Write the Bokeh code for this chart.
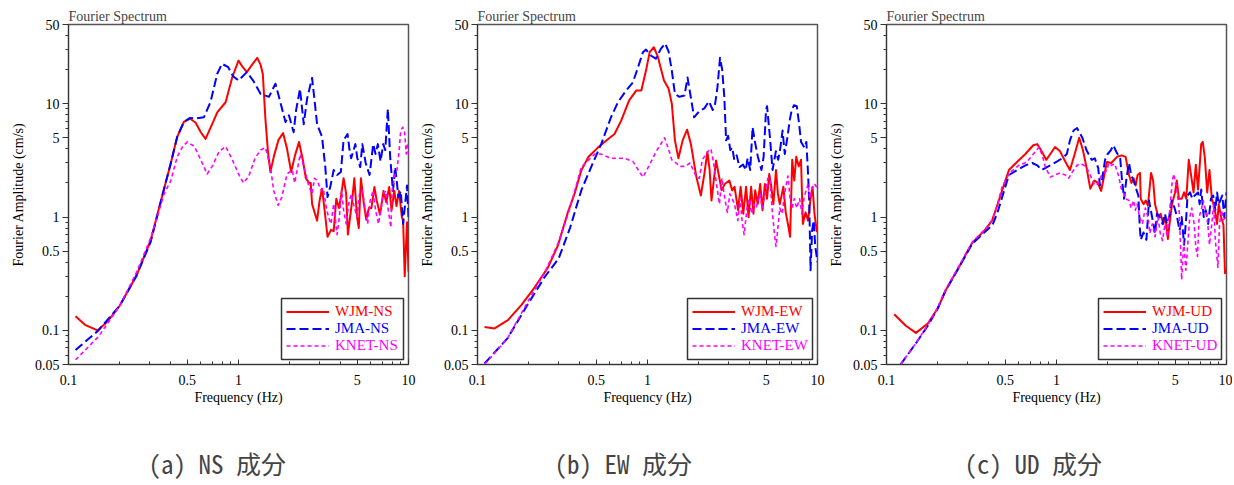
from bokeh.plotting import figure
from bokeh.models import (FixedTicker, CustomJSTickFormatter, Legend, LegendItem,
                          BoxAnnotation, Title, Range1d)
from bokeh.layouts import row
from bokeh.embed import file_html
from bokeh.resources import INLINE

# ---------------- data (frequency Hz, amplitude cm/s) ----------------
ns_wjm = [(0.11,0.133),(0.125,0.112),(0.148,0.10),(0.17,0.12),(0.2,0.165),(0.25,0.30),(0.304,0.62),
          (0.365,1.78),(0.399,2.96),(0.436,5.1),(0.477,6.9),(0.518,7.4),(0.56,6.8),(0.6,5.6),(0.64,4.9),
          (0.7,6.6),(0.75,8.4),(0.84,10.3),(0.92,17.2),(1.0,24),(1.06,21),(1.12,19),(1.2,22),(1.29,25.4),
          (1.35,22),(1.39,18.3),(1.44,7.3),(1.49,3.8),(1.54,2.5),(1.62,3.5),(1.72,4.8),(1.83,5.5),(1.93,4.0),
          (2.04,2.5),(2.15,3.5),(2.27,4.6),(2.38,3.3),(2.49,2.2),(2.6,2.0),(2.66,2.0),(2.71,1.3),(2.9,0.93),
          (3.0,1.4),(3.1,1.78),(3.2,1.2),(3.34,0.67),(3.5,0.77),(3.63,0.75),(3.76,1.45),(3.9,1.2),(4.0,1.5),
          (4.15,2.2),(4.3,1.6),(4.4,0.7),(4.65,1.35),(4.8,2.2),(4.98,1.0),(5.1,0.8),(5.25,2.2),(5.45,1.35),
          (5.64,0.95),(5.85,1.2),(6.05,1.2),(6.3,1.84),(6.5,1.4),(6.8,1.05),(7.13,1.7),(7.4,1.35),(7.7,1.84),
          (7.95,1.15),(8.25,1.7),(8.5,1.25),(8.8,1.7),(9.14,1.0),(9.3,0.93),(9.5,0.30),(9.8,0.9),(10.0,0.33)]
ns_jma = [(0.11,0.067),(0.15,0.10),(0.2,0.165),(0.25,0.3),(0.304,0.6),(0.365,1.78),(0.399,2.96),(0.436,5.1),
          (0.477,6.9),(0.52,7.5),(0.56,7.4),(0.626,7.6),(0.685,10.4),(0.75,18.4),(0.80,22.5),(0.87,21),
          (0.93,17.5),(1.0,16),(1.12,19),(1.22,16),(1.35,12.2),(1.51,11.5),(1.65,15),(1.76,10.4),(1.89,6.9),
          (1.98,7.9),(2.11,5.6),(2.18,8.7),(2.3,13.5),(2.42,6.6),(2.53,11),(2.71,16.9),(2.9,6.6),(3.1,5.1),
          (3.24,2.76),(3.34,1.5),(3.48,1.9),(3.63,2.6),(3.8,2.35),(4.0,2.5),(4.15,4.75),(4.38,5.4),(4.5,3.9),
          (4.6,3.3),(4.87,4.4),(5.0,3.3),(5.2,2.76),(5.35,4.4),(5.6,3.0),(5.9,2.35),(6.2,4.4),(6.4,3.6),
          (6.6,4.4),(6.85,3.1),(7.1,4.4),(7.3,3.9),(7.56,9.0),(7.8,3.4),(8.1,1.7),(8.35,2.76),(8.73,1.5),
          (9.0,1.7),(9.3,0.87),(9.55,1.3),(9.8,1.9),(10.0,1.0)]
ns_knet = [(0.11,0.055),(0.15,0.088),(0.2,0.165),(0.25,0.32),(0.304,0.65),(0.365,1.6),(0.4,2.1),(0.436,3.4),
           (0.47,4.2),(0.50,4.6),(0.55,4.2),(0.6,3.2),(0.654,2.4),(0.7,2.8),(0.77,3.8),(0.84,4.2),(0.92,3.2),
           (1.0,2.4),(1.07,2.0),(1.15,2.3),(1.25,3.3),(1.35,3.9),(1.44,4.1),(1.54,2.8),(1.61,1.72),(1.71,1.27),
           (1.8,1.5),(1.93,2.4),(2.07,2.6),(2.14,2.0),(2.31,3.6),(2.49,2.4),(2.6,1.84),(2.71,1.6),(2.8,2.2),
           (2.9,2.1),(3.06,1.72),(3.15,1.8),(3.28,1.23),(3.38,1.0),(3.5,0.87),(3.63,1.31),(3.8,0.70),(3.92,1.0),
           (4.04,1.72),(4.15,1.15),(4.3,0.87),(4.45,1.31),(4.6,1.6),(4.75,1.3),(4.98,1.0),(5.15,1.6),(5.35,1.72),
           (5.5,1.3),(5.75,0.87),(5.95,1.4),(6.2,1.72),(6.4,1.15),(6.66,0.87),(6.9,1.2),(7.13,1.6),(7.35,1.7),
           (7.55,1.23),(7.88,0.81),(8.0,1.7),(8.35,2.4),(8.55,2.6),(8.8,3.8),(9.0,5.8),(9.25,6.2),(9.5,5.5),
           (9.7,3.6),(9.85,4.5),(10.0,3.5)]

ew_wjm = [(0.11,0.107),(0.126,0.104),(0.151,0.123),(0.181,0.167),(0.217,0.24),(0.26,0.36),(0.297,0.56),
          (0.34,1.1),(0.372,1.6),(0.408,2.58),(0.45,3.4),(0.511,4.1),(0.58,4.8),(0.64,5.4),(0.70,7.1),
          (0.78,10.7),(0.86,13.1),(0.92,13.1),(0.98,19.6),(1.03,28.5),(1.09,31.5),(1.15,26),(1.25,16),
          (1.33,13.6),(1.39,10),(1.45,4.75),(1.52,3.3),(1.61,4.75),(1.71,5.9),(1.80,4.4),(1.94,2.25),
          (2.06,1.55),(2.16,2.4),(2.25,3.75),(2.32,2.6),(2.38,1.4),(2.53,3.16),(2.62,2.4),(2.73,1.72),
          (2.85,1.96),(3.03,2.1),(3.15,1.72),(3.25,1.85),(3.41,1.15),(3.53,1.85),(3.66,1.07),(3.8,1.85),
          (3.93,1.0),(4.07,1.85),(4.2,1.07),(4.3,1.72),(4.45,1.3),(4.6,1.96),(4.75,1.15),(4.9,1.96),
          (5.05,1.45),(5.2,2.4),(5.35,1.85),(5.5,1.3),(5.7,2.6),(5.85,1.6),(6.0,1.3),(6.3,1.85),(6.5,1.1),
          (6.7,0.87),(6.9,0.67),(7.1,3.2),(7.3,2.1),(7.5,3.4),(7.75,2.8),(8.0,3.2),(8.2,0.87),(8.5,1.1),
          (8.8,0.93),(9.1,1.45),(9.35,1.85),(9.6,1.07),(9.9,0.75),(10.0,0.8)]
ew_jma = [(0.11,0.051),(0.15,0.085),(0.2,0.175),(0.25,0.3),(0.3,0.43),(0.35,0.8),(0.408,1.72),(0.466,2.76),
          (0.534,4.4),(0.61,7.6),(0.67,10.3),(0.75,13.1),(0.82,15.4),(0.88,21),(0.94,28.5),(0.98,30),
          (1.05,26.5),(1.12,25),(1.2,30.6),(1.27,34),(1.33,29),(1.39,19.6),(1.45,12.2),(1.54,11.5),
          (1.65,11.8),(1.72,17),(1.78,12.5),(1.88,7.6),(2.02,8.6),(2.16,9.1),(2.22,9.7),(2.3,10.5),
          (2.42,8.8),(2.5,10),(2.58,14),(2.67,25.4),(2.75,20),(2.83,11.5),(2.9,4.75),(2.98,5.2),(3.07,3.9),
          (3.15,4.1),(3.24,3.2),(3.35,3.5),(3.47,2.76),(3.65,2.9),(3.78,2.6),(3.88,3.3),(4.02,2.6),
          (4.15,6.2),(4.27,4.75),(4.46,3.4),(4.68,2.6),(4.82,3.4),(4.98,8.8),(5.05,9.5),(5.27,4.75),
          (5.44,2.6),(5.69,3.8),(5.87,3.2),(6.05,4.1),(6.23,5.8),(6.42,3.6),(6.66,5.1),(6.86,7.1),
          (7.05,8.8),(7.27,9.7),(7.55,9.5),(7.78,6.8),(8.0,4.6),(8.38,4.1),(8.6,4.6),(8.8,2.4),(8.95,1.31),
          (9.1,0.34),(9.3,0.77),(9.5,0.93),(9.7,0.55),(10.0,0.4)]
ew_knet = [(0.11,0.05),(0.15,0.085),(0.2,0.185),(0.25,0.33),(0.3,0.6),(0.35,1.2),(0.408,2.76),(0.49,3.6),
           (0.53,3.6),(0.61,3.3),(0.73,3.3),(0.82,3.1),(0.94,2.25),(1.03,2.9),(1.12,3.75),(1.26,5.0),
           (1.32,4.1),(1.39,3.2),(1.47,3.0),(1.56,2.8),(1.67,2.8),(1.78,3.0),(1.94,2.25),(2.02,2.2),
           (2.1,3.2),(2.3,3.9),(2.36,4.0),(2.45,3.0),(2.56,1.85),(2.65,1.3),(2.74,2.2),(2.85,1.45),
           (2.95,1.1),(3.05,1.6),(3.15,1.45),(3.25,1.3),(3.4,0.93),(3.5,1.45),(3.6,0.93),(3.7,0.7),
           (3.85,1.2),(3.97,1.45),(4.1,1.07),(4.22,1.3),(4.35,1.2),(4.6,1.6),(4.72,1.2),(4.85,1.45),
           (5.1,2.2),(5.25,2.2),(5.4,1.2),(5.6,0.67),(5.7,0.55),(5.82,0.75),(6.0,1.2),(6.2,1.07),(6.4,1.6),
           (6.7,2.3),(6.9,1.45),(7.1,1.2),(7.3,1.45),(7.55,1.2),(7.85,1.45),(8.1,1.07),(8.35,1.5),
           (8.8,1.96),(9.0,1.45),(9.3,1.8),(9.6,1.96),(9.85,1.85),(10.0,1.8)]

ud_wjm = [(0.111,0.139),(0.13,0.11),(0.149,0.095),(0.175,0.115),(0.2,0.156),(0.223,0.226),(0.267,0.363),
          (0.319,0.59),(0.38,0.77),(0.418,0.93),(0.458,1.4),(0.479,1.72),(0.525,2.6),(0.586,3.06),
          (0.656,3.6),(0.73,4.3),(0.77,4.4),(0.81,3.9),(0.87,3.2),(0.92,3.6),(0.98,4.15),(1.05,3.8),
          (1.13,3.06),(1.2,2.6),(1.28,3.6),(1.36,5.0),(1.43,3.9),(1.5,2.76),(1.58,1.78),(1.67,2.1),
          (1.75,2.0),(1.83,1.7),(1.98,3.06),(2.1,3.0),(2.27,3.4),(2.42,3.5),(2.55,3.4),(2.67,2.35),
          (2.76,2.0),(2.84,2.2),(2.92,1.9),(3.0,2.35),(3.1,2.45),(3.13,1.45),(3.25,1.3),(3.35,1.4),
          (3.45,1.26),(3.6,2.45),(3.7,2.1),(3.8,1.3),(3.97,1.0),(4.1,1.07),(4.25,0.87),(4.38,1.0),
          (4.52,0.64),(4.62,0.86),(4.78,1.3),(4.98,1.65),(5.1,2.1),(5.25,1.45),(5.45,1.45),(5.63,1.65),
          (5.8,1.45),(6.0,3.2),(6.2,2.3),(6.4,1.65),(6.6,2.9),(6.8,1.75),(7.1,4.4),(7.25,4.6),(7.45,3.4),
          (7.7,1.65),(7.94,2.6),(8.2,1.45),(8.5,1.2),(8.8,0.87),(9.0,1.3),(9.3,1.0),(9.6,0.85),(9.8,0.32),
          (10.0,0.35)]
ud_jma = [(0.121,0.05),(0.149,0.077),(0.175,0.11),(0.2,0.156),(0.223,0.226),(0.267,0.36),(0.319,0.58),
          (0.38,0.74),(0.42,0.85),(0.45,1.1),(0.479,1.5),(0.525,2.35),(0.586,2.6),(0.656,2.86),(0.72,3.0),
          (0.77,2.86),(0.82,2.6),(0.92,2.86),(1.01,3.1),(1.08,3.3),(1.15,3.6),(1.2,4.75),(1.26,5.8),
          (1.32,6.1),(1.42,5.0),(1.5,3.9),(1.61,3.2),(1.68,3.3),(1.76,2.7),(1.8,1.9),(1.86,2.2),(1.93,3.2),
          (2.0,3.6),(2.09,3.9),(2.16,4.3),(2.25,3.75),(2.37,3.3),(2.43,2.1),(2.5,1.45),(2.58,2.2),(2.67,3.0),
          (2.75,2.35),(2.84,2.1),(2.93,1.8),(3.03,1.55),(3.09,0.81),(3.13,0.63),(3.25,0.73),(3.38,0.63),
          (3.5,1.4),(3.65,1.0),(3.8,0.72),(3.9,1.07),(4.05,1.0),(4.2,0.87),(4.35,1.07),(4.45,0.87),(4.6,1.0),
          (4.76,1.4),(4.95,1.2),(5.12,1.0),(5.3,0.76),(5.45,1.0),(5.63,0.57),(5.8,1.0),(5.9,1.55),(6.1,1.65),
          (6.3,1.45),(6.5,1.55),(6.8,1.65),(6.95,1.3),(7.1,1.75),(7.35,1.0),(7.55,1.15),(7.8,0.87),(8.1,1.45),
          (8.35,1.55),(8.6,1.15),(8.8,1.65),(9.0,1.3),(9.45,1.55),(9.7,1.0),(10.0,1.65)]
ud_knet = [(0.121,0.05),(0.149,0.077),(0.175,0.112),(0.2,0.158),(0.223,0.23),(0.267,0.37),(0.319,0.6),
           (0.38,0.78),(0.42,0.95),(0.45,1.3),(0.479,1.85),(0.53,2.45),(0.6,2.86),(0.67,3.06),(0.73,3.6),
           (0.79,4.15),(0.83,3.4),(0.86,2.76),(0.92,2.25),(0.98,2.35),(1.05,2.45),(1.13,2.35),(1.18,2.2),
           (1.24,2.5),(1.32,2.86),(1.4,2.96),(1.5,2.76),(1.61,2.2),(1.68,1.9),(1.75,1.96),(1.83,2.3),
           (1.98,2.6),(2.03,3.0),(2.11,2.86),(2.2,2.96),(2.32,2.3),(2.4,1.8),(2.47,1.65),(2.56,1.45),
           (2.67,1.4),(2.75,1.2),(2.84,1.4),(2.91,1.15),(2.98,1.3),(3.08,1.0),(3.2,0.87),(3.33,1.2),
           (3.45,1.0),(3.54,0.72),(3.66,0.87),(3.8,0.67),(3.95,1.0),(4.08,0.72),(4.2,0.62),(4.35,0.87),
           (4.48,0.67),(4.65,1.2),(4.8,2.1),(4.9,2.4),(5.1,1.75),(5.26,1.2),(5.35,0.62),(5.45,0.28),(5.6,0.6),
           (5.77,0.34),(5.93,0.6),(6.08,1.0),(6.25,1.2),(6.45,0.87),(6.6,0.54),(6.75,0.45),(6.9,1.0),
           (7.1,1.15),(7.3,1.4),(7.7,1.0),(7.94,0.57),(8.2,0.87),(8.4,1.3),(8.6,0.62),(8.9,0.36),(9.1,0.87),
           (9.35,1.15),(9.6,0.95),(10.0,1.0)]

x_major = [0.1, 0.5, 1, 5, 10]
x_minor = [0.2, 0.3, 0.4, 0.6, 0.7, 0.8, 0.9, 2, 3, 4, 6, 7, 8, 9]
y_major = [0.05, 0.1, 0.5, 1, 5, 10, 50]
y_minor = [0.06, 0.07, 0.08, 0.09, 0.2, 0.3, 0.4, 0.6, 0.7, 0.8, 0.9,
           2, 3, 4, 6, 7, 8, 9, 20, 30, 40]

panels = [
    ("(a) NS 成分", [("WJM-NS", ns_wjm), ("JMA-NS", ns_jma), ("KNET-NS", ns_knet)]),
    ("(b) EW 成分", [("WJM-EW", ew_wjm), ("JMA-EW", ew_jma), ("KNET-EW", ew_knet)]),
    ("(c) UD 成分", [("WJM-UD", ud_wjm), ("JMA-UD", ud_jma), ("KNET-UD", ud_knet)]),
]

# ---------------- styling ----------------
SERIF = "Liberation Serif"
CJK = "'Noto Sans Mono CJK JP', 'Noto Sans CJK JP', monospace"
STYLES = [dict(color="#ff0000", dash="solid", width=2.0),
          dict(color="#0000ff", dash="9 4", width=2.0),
          dict(color="#ff00ff", dash="4 3", width=1.6)]
LEGEND_LEFT = [213, 210, 212]
LEFT_BORDER = [68, 60, 60]
RIGHT_BORDER = [8, 8, 6]
CAP_OFFSET = [80, 77, 78]
ROW_BOTTOMS = [44, 27, 10]

fmt = "return String(tick)"


def make_panel(k):
    caption, series = panels[k]
    p = figure(x_axis_type="log", y_axis_type="log",
               x_range=Range1d(0.1, 10), y_range=Range1d(0.05, 50),
               frame_width=340, frame_height=340,
               min_border_left=LEFT_BORDER[k], min_border_right=RIGHT_BORDER[k],
               min_border_top=24, min_border_bottom=0,
               output_backend="svg", toolbar_location=None,
               title="Fourier Spectrum")
    p.title.text_font = SERIF
    p.title.text_font_size = "14px"
    p.title.text_font_style = "normal"
    p.title.align = "left"
    p.title.standoff = 1
    p.xgrid.visible = False
    p.ygrid.visible = False
    p.outline_line_color = "#555555"
    p.outline_line_width = 1.5
    p.background_fill_color = "white"

    xa = p.xaxis[0]
    xa.ticker = FixedTicker(ticks=x_major, minor_ticks=x_minor)
    xa.formatter = CustomJSTickFormatter(code=fmt)
    xa.major_tick_in = 5
    xa.major_tick_out = 0
    xa.minor_tick_in = 3
    xa.minor_tick_out = 0
    xa.major_label_standoff = 10
    xa.axis_label = "Frequency (Hz)"
    xa.axis_label_standoff = 2

    ya = p.yaxis[0]
    ya.ticker = FixedTicker(ticks=y_major, minor_ticks=y_minor)
    ya.formatter = CustomJSTickFormatter(code=fmt)
    ya.major_tick_out = 6
    ya.major_tick_in = 0
    ya.minor_tick_out = 3
    ya.minor_tick_in = 0
    ya.major_label_standoff = 3
    ya.axis_label = "Fourier Amplitude (cm/s)"
    ya.axis_label_standoff = 6

    for ax in (xa, ya):
        ax.major_label_text_font = SERIF
        ax.major_label_text_font_size = "14px"
        ax.major_label_text_color = "black"
        ax.axis_label_text_font = SERIF
        ax.axis_label_text_font_size = "14px"
        ax.axis_label_text_font_style = "normal"
        ax.axis_label_text_color = "black"
        ax.axis_line_color = "#333333"
        ax.major_tick_line_color = "#333333"
        ax.minor_tick_line_color = "#333333"

    renderers = []
    for (label, pts), st in zip(series, STYLES):
        f = [q[0] for q in pts]
        a = [q[1] for q in pts]
        r = p.line(f, a, line_color=st["color"], line_width=st["width"],
                   line_dash=st["dash"], line_join="round")
        renderers.append((label, r, st))

    box = BoxAnnotation(left=LEGEND_LEFT[k], right=335, bottom=5, top=66,
                        left_units="screen", right_units="screen",
                        top_units="screen", bottom_units="screen",
                        fill_alpha=0, line_color="#333333", line_width=1.5,
                        line_alpha=1)
    p.add_layout(box)

    for i, (label, r, st) in enumerate(renderers):
        lg = Legend(items=[LegendItem(label=label, renderers=[r])],
                    location=(LEGEND_LEFT[k] + 5, ROW_BOTTOMS[i]),
                    padding=0, margin=0, spacing=0,
                    border_line_alpha=0, background_fill_alpha=0,
                    glyph_width=43, glyph_height=17, label_height=17,
                    label_standoff=6,
                    label_text_font=SERIF, label_text_font_size="15px",
                    label_text_color=st["color"])
        p.add_layout(lg)

    cap = Title(text=caption, align="left", offset=CAP_OFFSET[k],
                text_font=CJK, text_font_size="25px", text_font_style="normal",
                standoff=71)
    p.add_layout(cap, "below")
    return p


layout = row(make_panel(0), make_panel(1), make_panel(2))
open("out.html", "w").write(file_html(layout, INLINE))
